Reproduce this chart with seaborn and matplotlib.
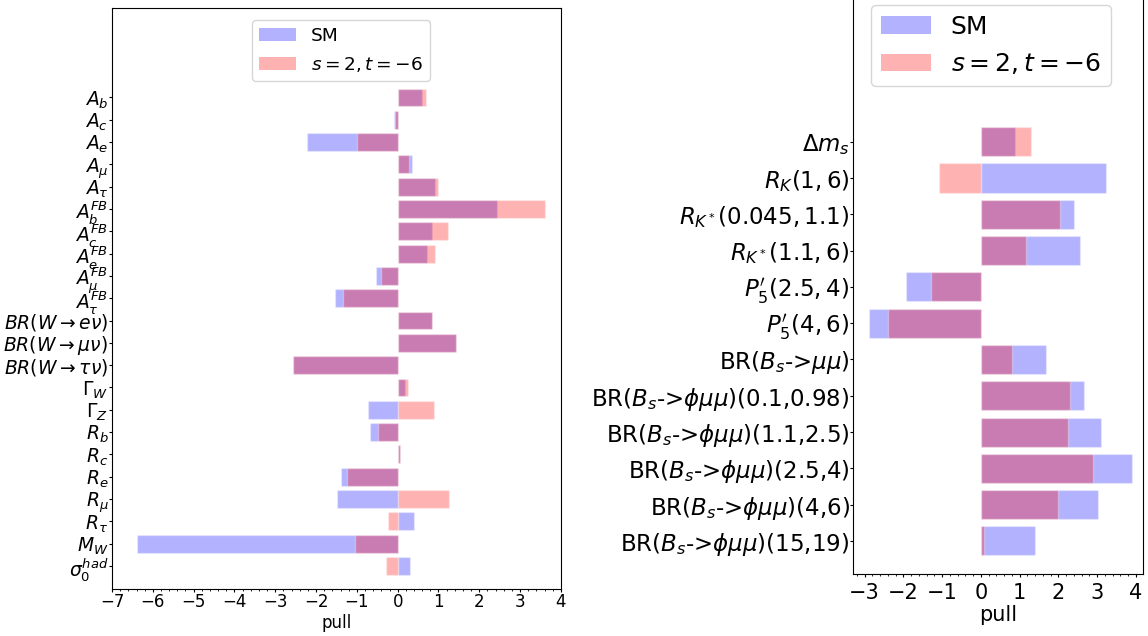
import numpy as np
import pandas as pd
import seaborn as sns
import matplotlib.pyplot as plt
from matplotlib.patches import Patch
from matplotlib.ticker import AutoMinorLocator

sns.set_style("ticks", rc={'text.color': 'black', 'axes.labelcolor': 'black',
                           'xtick.color': 'black', 'ytick.color': 'black'})
plt.rcParams['font.family'] = ['DejaVu Sans']

# electroweak observables (left panel)
ew_labels = [r'$A_b$', r'$A_c$', r'$A_e$', r'$A_\mu$', r'$A_\tau$',
             r'$A_b^{FB}$', r'$A_c^{FB}$', r'$A_e^{FB}$', r'$A_\mu^{FB}$', r'$A_\tau^{FB}$',
             r'$BR(W\to e\nu)$', r'$BR(W\to \mu\nu)$', r'$BR(W\to \tau\nu)$',
             r'$\Gamma_W$', r'$\Gamma_Z$', r'$R_b$', r'$R_c$', r'$R_e$', r'$R_\mu$',
             r'$R_\tau$', r'$M_W$', r'$\sigma_0^{had}$']
ew_sm = [0.60, -0.09, -2.22, 0.34, 0.91, 2.43, 0.84, 0.71, -0.53, -1.53,
         0.84, 1.43, -2.56, 0.18, -0.72, -0.68, 0.05, -1.38, -1.48, 0.40, -6.40, 0.30]
ew_np = [0.70, -0.06, -1.00, 0.28, 1.00, 3.60, 1.23, 0.91, -0.41, -1.34,
         0.84, 1.43, -2.56, 0.25, 0.89, -0.48, 0.05, -1.24, 1.26, -0.24, -1.04, -0.28]

# flavour observables (right panel)
fl_labels = [r'$\Delta m_s$', r'$R_K(1,6)$', r'$R_{K^*}(0.045,1.1)$', r'$R_{K^*}(1.1,6)$',
             r"$P_5'(2.5,4)$", r"$P_5'(4,6)$", r'BR($B_s$->$\mu\mu$)',
             r'BR($B_s$->$\phi\mu\mu$)(0.1,0.98)', r'BR($B_s$->$\phi\mu\mu$)(1.1,2.5)',
             r'BR($B_s$->$\phi\mu\mu$)(2.5,4)', r'BR($B_s$->$\phi\mu\mu$)(4,6)',
             r'BR($B_s$->$\phi\mu\mu$)(15,19)']
fl_sm = [0.87, 3.22, 2.41, 2.56, -1.94, -2.88, 1.69, 2.67, 3.09, 3.89, 3.02, 1.39]
fl_np = [1.28, -1.09, 2.03, 1.16, -1.30, -2.40, 0.80, 2.31, 2.25, 2.89, 2.00, 0.08]

df_ew = pd.DataFrame({'obs': ew_labels, 'SM': ew_sm, 'NP': ew_np})
df_fl = pd.DataFrame({'obs': fl_labels, 'SM': fl_sm, 'NP': fl_np})

fig = plt.figure(figsize=(11.48, 6.36), dpi=100)
ax1 = fig.add_axes([0.0976, 0.074, 0.391, 0.913])
ax2 = fig.add_axes([0.743, 0.0975, 0.2526, 0.9525])

def draw(ax, df, fs_tick, fs_y, xpad, ypad):
    sns.barplot(data=df, x='SM', y='obs', color='blue', alpha=0.3, saturation=1,
                errorbar=None, orient='h', ax=ax)
    sns.barplot(data=df, x='NP', y='obs', color='red', alpha=0.3, saturation=1,
                errorbar=None, orient='h', ax=ax)
    ax.set_ylabel('')
    ax.set_xlabel('pull', fontsize=fs_tick, labelpad=2)
    ax.xaxis.set_minor_locator(AutoMinorLocator())
    ax.tick_params(axis='x', labelsize=fs_tick, length=2.2, pad=xpad, width=0.8)
    ax.tick_params(axis='x', which='minor', length=1.5, width=0.6)
    ax.tick_params(axis='y', labelsize=fs_y, length=2.2, pad=ypad, width=0.8)
    for s in ax.spines.values():
        s.set_color('black')
        s.set_linewidth(0.8)
    handles = [Patch(facecolor='blue', alpha=0.3, edgecolor='none', label='SM'),
               Patch(facecolor='red', alpha=0.3, edgecolor='none', label=r'$s=2, t=-6$')]
    return handles

h = draw(ax1, df_ew, 12, 13.5, 1.0, 0.5)
ax1.set_xlim(-7, 4)
ax1.set_xticks(range(-7, 5))
ax1.set_ylim(22.03, -4)
ax1.legend(handles=h, loc='upper center', bbox_to_anchor=(0.51, 0.98),
           borderaxespad=0, fontsize=13.3)

h = draw(ax2, df_fl, 15, 16.5, 4.0, 0.3)
ax2.set_xlim(-3.3, 4.18)
ax2.set_xticks(range(-3, 5))
ax2.set_ylim(11.91, -4.78)
ax2.legend(handles=h, loc='upper center', bbox_to_anchor=(0.476, 0.94),
           borderaxespad=0, fontsize=18)

fig.savefig('out.png', dpi=100)
